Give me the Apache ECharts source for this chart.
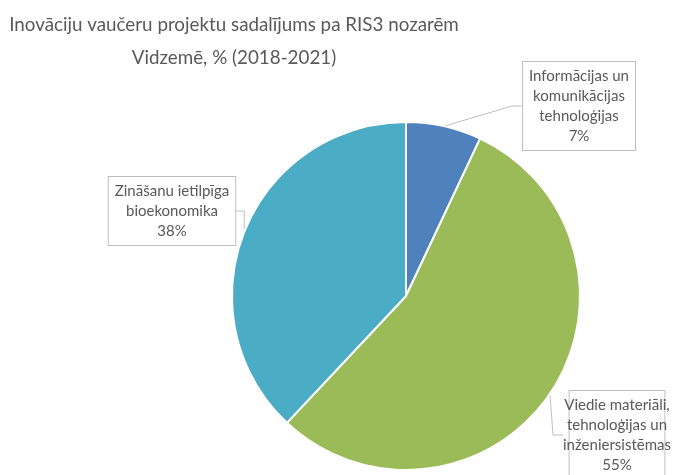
<!DOCTYPE html>
<html>
<head>
<meta charset="utf-8">
<script src="https://cdn.jsdelivr.net/npm/echarts@6/dist/echarts.min.js"></script>
<style>
  html, body { margin: 0; padding: 0; background: #fff; }
  #chart { width: 678px; height: 475px; }
</style>
</head>
<body>
<div id="chart"></div>
<script>
// RIS3 sectors (line breaks as in the callouts) and their shares, %
const sectors = [
  'Informācijas un\nkomunikācijas\ntehnoloģijas',
  'Viedie materiāli,\ntehnoloģijas un\ninženiersistēmas',
  'Zināšanu ietilpīga\nbioekonomika'
]
const shares = [7, 55, 38]
const sliceColors = ['#4F81BD', '#9BBB59', '#4BACC6']

// callout box centres
const calloutPos = [
  { x: 579, y: 106 },
  { x: 617, y: 435 },
  { x: 172, y: 211 }
]

const chart = echarts.init(document.getElementById('chart'))

chart.setOption({
  animation: false,
  title: {
    text: 'Inovāciju vaučeru projektu sadalījums pa RIS3 nozarēm\nVidzemē, % (2018-2021)',
    left: 229,
    top: 3,
    textAlign: 'center',
    textStyle: {
      fontFamily: 'Lato',
      fontSize: 18.8,
      fontWeight: 'normal',
      color: '#595959',
      lineHeight: 33
    }
  },
  series: [{
    type: 'pie',
    center: [406, 296],
    radius: 174,
    startAngle: 90,
    data: sectors.map((name, i) => ({
      name,
      value: shares[i],
      itemStyle: { color: sliceColors[i] }
    })),
    itemStyle: { borderColor: '#fff', borderWidth: 2 },
    label: {
      show: true,
      position: 'outside',
      formatter: '{b}\n{c}%',
      fontFamily: 'Lato',
      fontSize: 15,
      lineHeight: 20,
      color: '#595959',
      align: 'center',
      overflow: 'none',
      backgroundColor: '#fff',
      borderColor: '#bfbfbf',
      borderWidth: 1,
      padding: [4, 6]
    },
    labelLine: {
      show: true,
      length: 10,
      length2: 10,
      lineStyle: { color: '#bfbfbf', width: 1 }
    },
    labelLayout: function (params) {
      const p = calloutPos[params.dataIndex]
      return { x: p.x, y: p.y, align: 'center', verticalAlign: 'middle' }
    },
    emphasis: { disabled: true }
  }]
})
</script>
</body>
</html>
